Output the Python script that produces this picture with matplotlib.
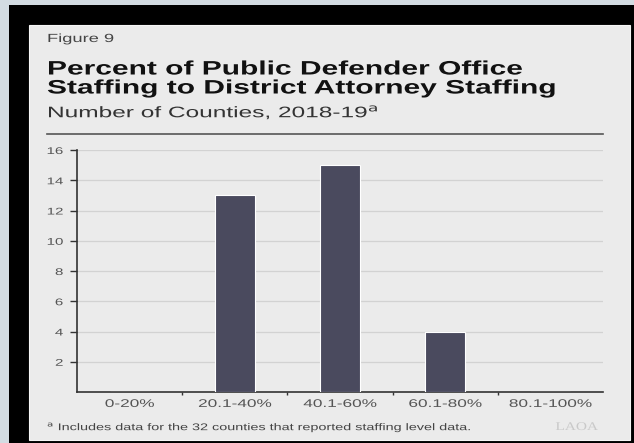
import matplotlib
matplotlib.use("Agg")
import matplotlib.pyplot as plt
from matplotlib.patches import Rectangle
from matplotlib.lines import Line2D
from matplotlib.patheffects import AbstractPathEffect
from matplotlib.transforms import Affine2D

# data
categories = ["0-20%", "20.1-40%", "40.1-60%", "60.1-80%", "80.1-100%"]
counties = [0, 13, 15, 4, 0]
yticks = [2, 4, 6, 8, 10, 12, 14, 16]

W, H = 634, 443
SX = 1.55  # the reference text is drawn wide
plt.rcParams['font.family'] = ['Liberation Sans', 'DejaVu Sans']


class Stretch(AbstractPathEffect):
    # widen glyphs horizontally around the text anchor
    def __init__(self, sx, anchor="left"):
        super().__init__()
        self.sx = sx
        self.anchor = anchor

    def draw_path(self, renderer, gc, tpath, affine, rgbFace=None):
        v = affine.transform(tpath.vertices)
        if len(v) == 0:
            return
        lo, hi = v[:, 0].min(), v[:, 0].max()
        x0 = {"left": lo, "center": (lo + hi) / 2, "right": hi}[self.anchor]
        aff = affine + Affine2D().translate(-x0, 0).scale(self.sx, 1).translate(x0, 0)
        renderer.draw_path(gc, tpath, aff, rgbFace)


fig = plt.figure(figsize=(W / 100, H / 100), dpi=100, facecolor="#d3dce2")

def px(x, y):
    # pixel coords (from top left) -> figure fraction
    return x / W, 1 - y / H

# black frame and light panel
x0, y0 = px(9, 5)
fig.patches.append(Rectangle((x0, 0), 1 - x0, y0, transform=fig.transFigure,
                             facecolor="black", edgecolor="none", zorder=0))
px0, py0 = px(29, 440)
px1, py1 = px(630, 25)
fig.patches.append(Rectangle((px0, py0), px1 - px0, py1 - py0, transform=fig.transFigure,
                             facecolor="#ebebeb", edgecolor="#f6f6f6", lw=0.8, zorder=1))

def ftext(x, y, s, sx=SX, **kw):
    t = fig.text(*px(x, y), s, va="center", zorder=4, **kw)
    t.set_path_effects([Stretch(sx, kw.get("ha", "left"))])
    return t

# header text
ftext(47, 39, "Figure 9", fontsize=8.5, color="#444")
ftext(47, 70, "Percent of Public Defender Office", sx=1.54, fontsize=14,
      fontweight="bold", color="#111")
ftext(47, 89, "Staffing to District Attorney Staffing", sx=1.54, fontsize=14,
      fontweight="bold", color="#111")
ftext(47, 112, "Number of Counties, 2018-19$^{\\mathrm{a}}$", sx=1.6, fontsize=11,
      color="#333")
lx0, ly = px(47, 134)
lx1, _ = px(603, 134)
fig.add_artist(Line2D([lx0, lx1], [ly, ly], transform=fig.transFigure,
                      color="#555", lw=1.2, zorder=4))

# axes
ax_l, ax_b = px(77, 392)
ax_r, ax_t = px(603, 150)
ax = fig.add_axes([ax_l, ax_b, ax_r - ax_l, ax_t - ax_b])
ax.set_zorder(3)
ax.set_facecolor("none")

x = list(range(len(categories)))
ax.bar(x, counties, width=0.38, color="#4a4a5e", edgecolor="white", linewidth=0.8, zorder=3)

ax.set_xlim(-0.5, len(categories) - 0.5)
ax.set_ylim(0, 16)
ax.set_yticks(yticks)
ax.set_yticklabels([str(v) for v in yticks])
ax.yaxis.grid(True, color="#d2d2d2", lw=0.9, zorder=0)
ax.tick_params(axis="y", direction="out", length=5, width=1, color="#333",
               labelsize=7, labelcolor="#555", pad=5)

ax.set_xticks(x)
ax.set_xticklabels(categories)
ax.set_xticks([0.5, 1.5, 2.5, 3.5], minor=True)
ax.tick_params(axis="x", which="major", length=0, labelsize=8, labelcolor="#555", pad=5)
ax.tick_params(axis="x", which="minor", direction="out", length=2, width=1, color="#333")

for tk in ax.yaxis.get_major_ticks():
    tk.label1.set_path_effects([Stretch(SX, "right")])
for tk in ax.xaxis.get_major_ticks():
    tk.label1.set_path_effects([Stretch(SX, "center")])

for s in ["top", "right"]:
    ax.spines[s].set_visible(False)
for s in ["left", "bottom"]:
    ax.spines[s].set_color("#333")
    ax.spines[s].set_linewidth(1.2)

# footnote and logo
ftext(47, 427, "$^{\\mathrm{a}}$ Includes data for the 32 counties that reported staffing level data.",
      sx=1.48, fontsize=7, color="#444")
ftext(598, 427, "LAOA", sx=1.3, fontsize=8.5, family="Liberation Serif", color="#c9c9c9",
      ha="right")

fig.savefig("out.png", dpi=100, facecolor=fig.get_facecolor())
